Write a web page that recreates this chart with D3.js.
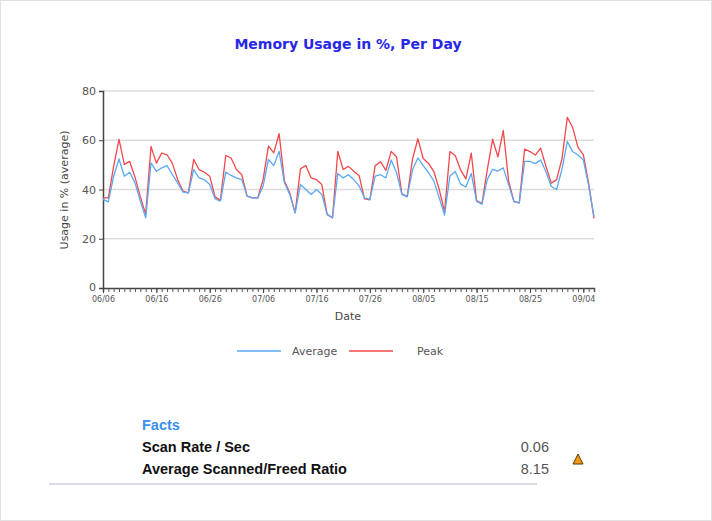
<!DOCTYPE html>
<html>
<head>
<meta charset="utf-8">
<script src="https://cdn.jsdelivr.net/npm/d3@7"></script>
<style>
  body { margin: 0; background: #fff; }
  svg { display: block; }
</style>
</head>
<body>
<svg id="chart" width="712" height="521"></svg>
<script>
// daily values, 06/06 through 09/06
var startDay = "06/06";
var averageValues = [36, 35, 45.4, 52.4, 45.4, 47, 42.7, 35.3, 28.5, 50.8,
	47.4, 48.8, 49.7, 46, 42.7, 38.9, 38.6, 48.1, 44.7, 44,
	42, 36.2, 35.3, 47, 45.7, 44.7, 44, 37.3, 36.6, 36.6,
	41.4, 52.2, 49.7, 55.5, 42.7, 38, 30.5, 42, 40, 38,
	40, 38, 29.9, 28.5, 46.5, 44.7, 46, 44, 41.4, 36.6,
	36, 45.4, 46, 44.7, 52, 46.8, 38, 37, 48, 52.8,
	49.7, 46.8, 43.4, 36.6, 29.6, 45.5, 47.3, 42.2, 41, 46.5,
	35.2, 34, 44, 48.2, 47.5, 48.8, 42, 35, 34.6, 51.4,
	51.4, 50.5, 52, 47.2, 41.2, 40, 48.3, 59.5, 55.4, 54,
	52, 41.6, 29];
var peakValues = [36.6, 36.6, 49.5, 60.4, 50.2, 51.4, 45, 37, 30, 57.5,
	50.7, 54.8, 54.1, 50.6, 44, 39.3, 38.6, 52.2, 48.1, 47,
	45.4, 37, 35.7, 53.8, 52.8, 48.1, 46, 37.3, 36.6, 36.6,
	44, 57.6, 54.9, 62.7, 43.4, 38.6, 30.5, 48.4, 49.7, 44.7,
	44, 42, 29.9, 28.5, 55.5, 48.1, 49.4, 47.4, 45.6, 36.2,
	35.8, 49.7, 51.3, 47.8, 55.5, 53.2, 38.2, 37.2, 52.4, 60.6,
	52.6, 50.6, 47.3, 40, 31, 55.4, 53.8, 48, 44.3, 54.8,
	35.5, 34.3, 48, 60.4, 53.2, 64, 43.5, 35.2, 34.6, 56.4,
	55.4, 54, 56.8, 49.4, 42.6, 44, 52.5, 69.3, 65.2, 57.1,
	54.2, 42.5, 28.3];
var xTickLabels = ["06/06", "06/16", "06/26", "07/06", "07/16", "07/26", "08/05", "08/15", "08/25", "09/04"];
var yTicks = [0, 20, 40, 60, 80];
var seriesNames = ["Average", "Peak"];
var seriesColors = ["#5aa9f5", "#f4474b"];
var factLabels = ["Scan Rate / Sec", "Average Scanned/Freed Ratio"];
var factValues = ["0.06", "8.15"];

var parseDay = d3.timeParse("%m/%d/%Y");
var fmtDay = d3.timeFormat("%m/%d");
var start = parseDay(startDay + "/2010");
var dates = averageValues.map((v, i) => d3.timeDay.offset(start, i));

var svg = d3.select("#chart");

// light frame round the page
svg.append("rect")
	.attr("x", 0.5).attr("y", 0.5)
	.attr("width", 711).attr("height", 520)
	.attr("fill", "none")
	.attr("stroke", "#e2e2e2");

var margin = { left: 103, right: 118, top: 91, bottom: 233 };
var width = 712 - margin.left - margin.right;
var height = 521 - margin.top - margin.bottom;

var x = d3.scaleTime()
	.domain([dates[0], dates[dates.length - 1]])
	.range([0, width]);
var y = d3.scaleLinear()
	.domain([0, 80])
	.range([height, 0]);

var g = svg.append("g").attr("transform", `translate(${margin.left},${margin.top})`);

// title
svg.append("text")
	.attr("x", 348).attr("y", 49)
	.attr("text-anchor", "middle")
	.attr("font-family", "DejaVu Sans, sans-serif")
	.attr("font-weight", "bold")
	.attr("font-size", 14)
	.attr("fill", "#2727e6")
	.text("Memory Usage in %, Per Day");

// grid lines
g.selectAll(".grid")
	.data(yTicks.filter(d => d > 0))
	.enter()
	.append("line")
	.attr("x1", 0).attr("x2", width)
	.attr("y1", d => y(d)).attr("y2", d => y(d))
	.attr("stroke", "#dcdcdc")
	.attr("stroke-width", 1.5);

// y axis
var yAxis = g.append("g")
	.call(d3.axisLeft(y).tickValues(yTicks).tickSize(4).tickPadding(3));
yAxis.select(".domain").attr("stroke", "#444").attr("stroke-width", 1.5);
yAxis.selectAll(".tick line").attr("stroke", "#444");
yAxis.selectAll("text")
	.attr("font-family", "DejaVu Sans, sans-serif")
	.attr("font-size", 11)
	.attr("fill", "#555")
	.attr("dy", d => d === 0 ? "0.2em" : "0.32em");

// x axis: minor ticks each day, labels every ten days
var tickDates = xTickLabels.map(s => parseDay(s + "/2010"));
var xMinor = g.append("g")
	.attr("transform", `translate(0,${height})`)
	.call(d3.axisBottom(x).tickValues(dates).tickSize(4).tickFormat(""));
xMinor.select(".domain").attr("stroke", "#444").attr("stroke-width", 1.5);
xMinor.selectAll(".tick line").attr("stroke", "#555");

var xAxis = g.append("g")
	.attr("transform", `translate(0,${height})`)
	.call(d3.axisBottom(x).tickValues(tickDates).tickSize(5).tickPadding(3).tickFormat(fmtDay));
xAxis.select(".domain").remove();
xAxis.selectAll(".tick line").attr("stroke", "#444");
xAxis.selectAll("text")
	.attr("font-family", "DejaVu Sans, sans-serif")
	.attr("font-size", 8)
	.attr("fill", "#555");

// axis titles
svg.append("text")
	.attr("transform", "translate(68,190) rotate(-90)")
	.attr("text-anchor", "middle")
	.attr("font-family", "DejaVu Sans, sans-serif")
	.attr("font-size", 11)
	.attr("fill", "#444")
	.text("Usage in % (average)");
svg.append("text")
	.attr("x", 348).attr("y", 320)
	.attr("text-anchor", "middle")
	.attr("font-family", "DejaVu Sans, sans-serif")
	.attr("font-size", 11)
	.attr("fill", "#444")
	.text("Date");

// series lines, peak drawn first so the average sits on top
var series = [averageValues, peakValues];
[1, 0].forEach(function(k) {
	var line = d3.line()
		.x((d, i) => x(dates[i]))
		.y(d => y(d));
	g.append("path")
		.datum(series[k])
		.attr("fill", "none")
		.attr("stroke", seriesColors[k])
		.attr("stroke-width", 1.3)
		.attr("stroke-linejoin", "round")
		.attr("d", line);
});

// legend
var legendX = [237, 349];
var legend = svg.selectAll(".legend")
	.data(seriesNames)
	.enter()
	.append("g")
	.attr("transform", (d, i) => `translate(${legendX[i]},351)`);
legend.append("line")
	.attr("x1", 0).attr("x2", 44)
	.attr("stroke", (d, i) => seriesColors[i])
	.attr("stroke-width", 1.3);
legend.append("text")
	.attr("x", (d, i) => i === 0 ? 55 : 68)
	.attr("y", 4)
	.attr("font-family", "DejaVu Sans, sans-serif")
	.attr("font-size", 11)
	.attr("fill", "#555")
	.text(d => d);

// facts block
svg.append("text")
	.attr("x", 142).attr("y", 430)
	.attr("font-family", "Liberation Sans, Arial, sans-serif")
	.attr("font-weight", "bold")
	.attr("font-size", 14.5)
	.attr("fill", "#3b8ef0")
	.text("Facts");

var facts = svg.selectAll(".fact")
	.data(factLabels)
	.enter()
	.append("g")
	.attr("transform", (d, i) => `translate(0,${452 + i * 22})`);
facts.append("text")
	.attr("x", 142)
	.attr("font-family", "Liberation Sans, Arial, sans-serif")
	.attr("font-weight", "bold")
	.attr("font-size", 14.5)
	.attr("fill", "#111")
	.text(d => d);
facts.append("text")
	.attr("x", 549)
	.attr("text-anchor", "end")
	.attr("font-family", "Liberation Sans, Arial, sans-serif")
	.attr("font-size", 14.5)
	.attr("fill", "#555")
	.text((d, i) => factValues[i]);

// warning marker
svg.append("path")
	.attr("d", "M578,454 L583,464 L573,464 Z")
	.attr("fill", "#f39a12")
	.attr("stroke", "#5a3a00")
	.attr("stroke-width", 1)
	.attr("stroke-linejoin", "round");

// separator
svg.append("line")
	.attr("x1", 49).attr("x2", 537)
	.attr("y1", 484).attr("y2", 484)
	.attr("stroke", "#d9d9e2")
	.attr("stroke-width", 2);
</script>
</body>
</html>
